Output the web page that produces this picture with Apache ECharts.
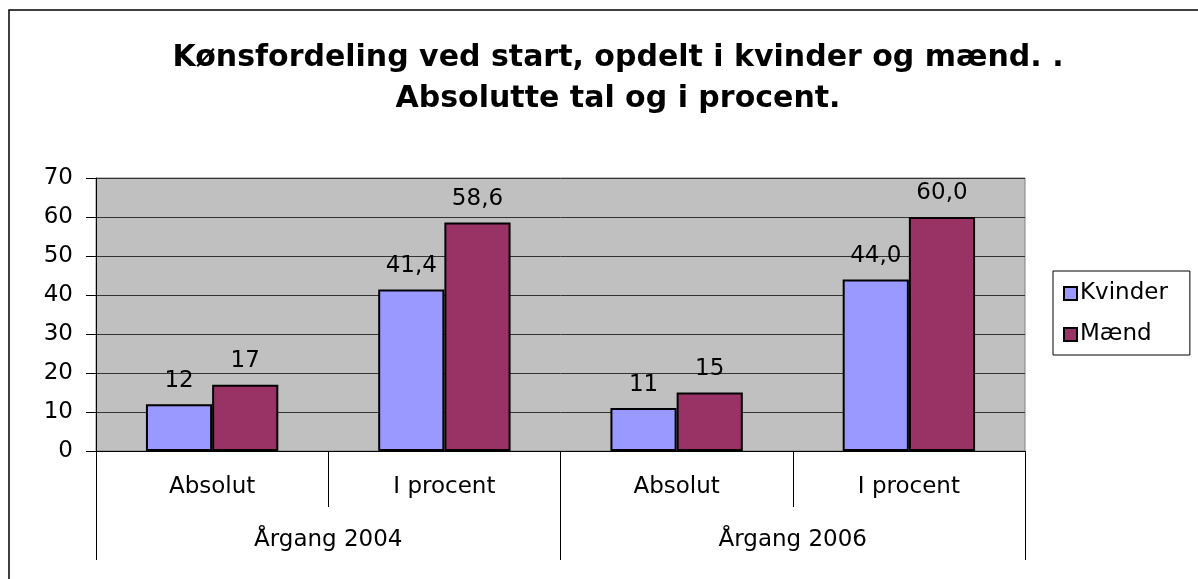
<!DOCTYPE html>
<html>
<head>
<meta charset="utf-8">
<script src="https://cdn.jsdelivr.net/npm/echarts@6/dist/echarts.min.js"></script>
<style>
  html, body { margin: 0; padding: 0; background: #fff; }
  #chart { width: 1198px; height: 579px; }
</style>
</head>
<body>
<div id="chart"></div>
<script>
var categories = ["Absolut", "I procent", "Absolut", "I procent"];
var groups = ["Årgang 2004", "Årgang 2006"];
var kvinder = [12, 41.4, 11, 44.0];
var maend = [17, 58.6, 15, 60.0];
var yTicks = [0, 10, 20, 30, 40, 50, 60, 70];

var font = "DejaVu Sans";
var fs = 23;

// absolutte tal uden decimaler, procent med en decimal og komma
function fmtLabel(p) {
   if (p.dataIndex % 2 === 1) {
      return p.value.toFixed(1).replace(".", ",");
   }
   return String(Math.round(p.value));
}

var chart = echarts.init(document.getElementById("chart"));
var option = {
   backgroundColor: "#fff",
   textStyle: { fontFamily: font },
   title: {
      text: "Kønsfordeling ved start, opdelt i kvinder og mænd. .\nAbsolutte tal og i procent.",
      left: 613,
      textAlign: "center",
      top: 33,
      textStyle: {
         fontFamily: font,
         fontSize: 30,
         fontWeight: "bold",
         color: "#000",
         lineHeight: 41
      }
   },
   graphic: [{
      type: "rect",
      shape: { x: 9, y: 10, width: 1400, height: 800 },
      style: { fill: "none", stroke: "#000", lineWidth: 1.5 },
      silent: true
   }],
   legend: {
      orient: "vertical",
      left: 1053,
      top: 271,
      padding: [11, 22, 9, 10],
      itemGap: 18,
      itemWidth: 13,
      itemHeight: 13,
      borderColor: "#000",
      borderWidth: 1,
      icon: "rect",
      textStyle: { fontFamily: font, fontSize: fs, color: "#000", padding: [0, 0, 0, -2] },
      data: ["Kvinder", "Mænd"]
   },
   grid: {
      left: 96,
      right: 173,
      top: 178,
      bottom: 128,
      show: true,
      backgroundColor: "#c0c0c0",
      borderColor: "#808080",
      borderWidth: 1
   },
   xAxis: [{
      type: "category",
      data: categories,
      axisLine: { lineStyle: { color: "#000", width: 1 } },
      axisTick: { show: true, interval: 0, length: 56, lineStyle: { color: "#000" } },
      axisLabel: { interval: 0, margin: 25, fontSize: fs, color: "#000", fontFamily: font }
   }, {
      type: "category",
      data: groups,
      position: "bottom",
      axisLine: { show: false },
      axisTick: { show: true, interval: 0, length: 109, lineStyle: { color: "#000" } },
      axisLabel: { interval: 0, margin: 78, fontSize: fs, color: "#000", fontFamily: font }
   }],
   yAxis: {
      type: "value",
      min: yTicks[0],
      max: yTicks[yTicks.length - 1],
      interval: 10,
      axisLine: { show: true, lineStyle: { color: "#000", width: 1 } },
      axisTick: { show: true, length: 10, lineStyle: { color: "#000" } },
      axisLabel: { margin: 23, fontSize: fs, color: "#000", fontFamily: font },
      splitLine: { show: true, lineStyle: { color: "#333", width: 1 } }
   },
   series: [{
      name: "Kvinder",
      type: "bar",
      xAxisIndex: 0,
      data: kvinder,
      barGap: "0%",
      barCategoryGap: "43%",
      itemStyle: { color: "#9999ff", borderColor: "#000", borderWidth: 2 },
      label: {
         show: true,
         position: "top",
         distance: 12,
         fontSize: fs,
         color: "#000",
         fontFamily: font,
         formatter: fmtLabel
      }
   }, {
      name: "Mænd",
      type: "bar",
      xAxisIndex: 0,
      data: maend,
      barGap: "0%",
      barCategoryGap: "43%",
      itemStyle: { color: "#993366", borderColor: "#000", borderWidth: 2 },
      label: {
         show: true,
         position: "top",
         distance: 12,
         fontSize: fs,
         color: "#000",
         fontFamily: font,
         formatter: fmtLabel
      }
   }]
};
chart.setOption(option);
</script>
</body>
</html>
